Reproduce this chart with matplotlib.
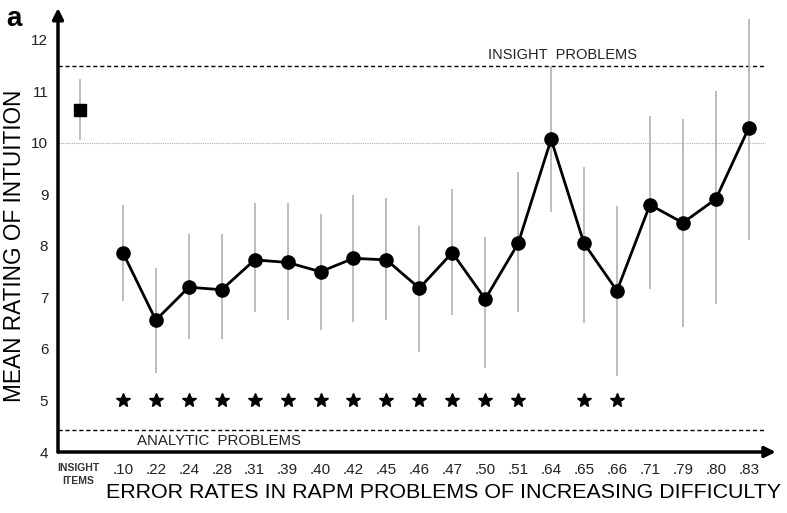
import numpy as np
import matplotlib.pyplot as plt

plt.rcParams['font.family'] = ['Liberation Sans', 'DejaVu Sans']

# error rates of the RAPM items (x tick labels)
rates = ['.10', '.22', '.24', '.28', '.31', '.39', '.40', '.42', '.45', '.46',
         '.47', '.50', '.51', '.64', '.65', '.66', '.71', '.79', '.80', '.83']
means = [7.87, 6.56, 7.20, 7.15, 7.73, 7.68, 7.50, 7.76, 7.73, 7.18,
         7.87, 6.97, 8.05, 10.07, 8.05, 7.13, 8.80, 8.45, 8.91, 10.29]
err_hi = [8.80, 7.57, 8.23, 8.23, 8.84, 8.84, 8.63, 8.98, 8.93, 8.39,
          9.10, 8.17, 9.44, 11.50, 9.54, 8.78, 10.53, 10.47, 11.00, 12.40]
err_lo = [6.94, 5.54, 6.19, 6.19, 6.72, 6.56, 6.36, 6.52, 6.56, 5.95,
          6.66, 5.64, 6.71, 8.65, 6.51, 5.48, 7.16, 6.42, 6.87, 8.12]
# significant difference from insight items
signif = [1, 1, 1, 1, 1, 1, 1, 1, 1, 1, 1, 1, 1, 0, 1, 1, 0, 0, 0, 0]

insight_mean = 10.64
insight_hi = 11.24
insight_lo = 10.06

insight_line = 11.5
analytic_line = 4.43
star_y = 5.0

x = np.arange(len(rates))
x_ins = -1.3

fig = plt.figure(figsize=(7.87, 5.13), dpi=100)
ax = fig.add_axes([0.0737, 0.1189, 0.912, 0.8655])
ax.set_xlim(-1.97, 19.82)
ax.set_ylim(4, 12.62)

# reference lines
ax.hlines([insight_line, analytic_line], -1.97, 19.48, colors='k',
          linestyles=(0, (3, 2)), lw=1.0)
ax.hlines(10, -1.97, 19.48, colors='#aaaaaa', linestyles=(0, (1, 1)), lw=0.8)
ax.text(11.08, insight_line + 0.08, 'INSIGHT  PROBLEMS', fontsize=10.5,
        color='#222222', va='bottom', ha='left')
ax.text(0.42, 4.22, 'ANALYTIC  PROBLEMS', fontsize=10.8,
        color='#222222', va='center', ha='left')

# error bars
ax.vlines(x, err_lo, err_hi, colors='#b0b0b0', lw=1.2, zorder=2)
ax.vlines(x_ins, insight_lo, insight_hi, colors='#b0b0b0', lw=1.2, zorder=2)

ax.plot(x, means, '-o', color='k', lw=2, ms=9.5, zorder=3)
ax.plot([x_ins], [insight_mean], 's', color='k', ms=9, zorder=3)

sx = [xi for xi, s in zip(x, signif) if s]
ax.plot(sx, [star_y] * len(sx), '*', color='k', ms=10, ls='none')

# axes with arrows
for s in ax.spines.values():
    s.set_visible(False)
ax.annotate('', xy=(0, 1), xytext=(0, 0), xycoords='axes fraction',
            arrowprops=dict(arrowstyle='-|>', lw=2.5, color='k',
                            mutation_scale=16, shrinkA=0, shrinkB=0))
ax.annotate('', xy=(1, 0), xytext=(0, 0), xycoords='axes fraction',
            arrowprops=dict(arrowstyle='-|>', lw=2.5, color='k',
                            mutation_scale=16, shrinkA=0, shrinkB=0))

ax.set_yticks(range(4, 13))
ax.set_xticks(x)
ax.set_xticklabels(rates)
ax.tick_params(length=0, labelsize=11, colors='#222222')
ax.tick_params(axis='y', pad=7)
ax.tick_params(axis='x', pad=8)

ax.text(x_ins - 0.05, 3.56, 'INSIGHT\nITEMS', fontsize=7.5, ha='center',
        va='center', fontweight='bold', color='#333333', linespacing=1.3)

fig.text(0.5635, 0.039, 'ERROR RATES IN RAPM PROBLEMS OF INCREASING DIFFICULTY',
         fontsize=15.4, ha='center', va='center')
fig.text(0.0178, 0.521, 'MEAN RATING OF INTUITION', fontsize=16.3, rotation=90,
         ha='center', va='center')
fig.text(0.008, 0.963, 'a', fontsize=20, fontweight='bold', va='center')

fig.savefig('out.png', dpi=100)
